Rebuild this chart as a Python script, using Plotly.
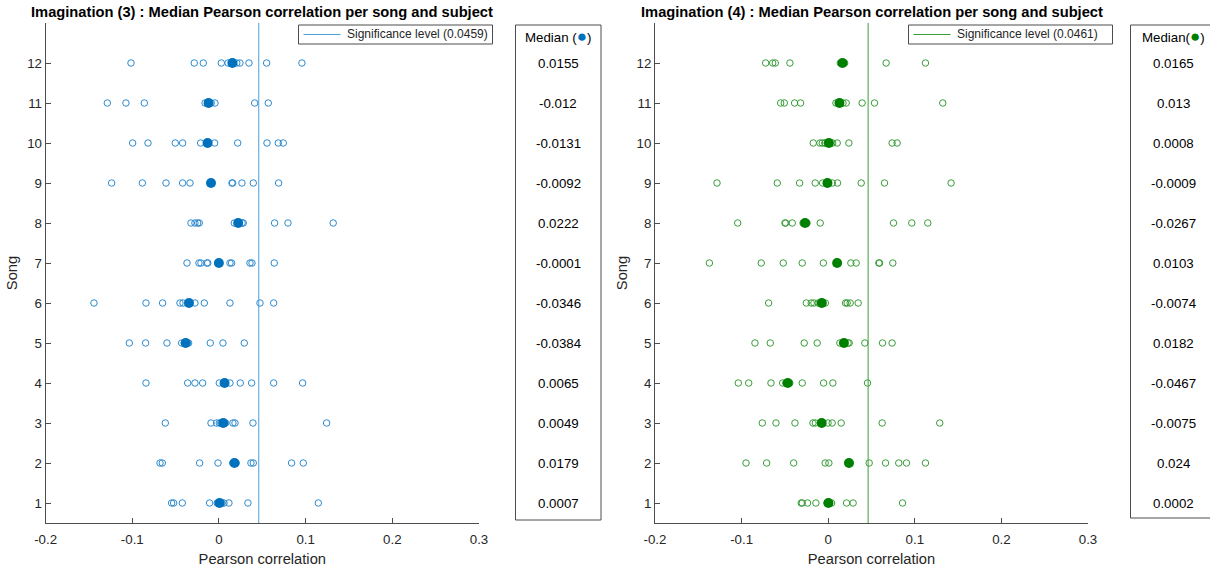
import plotly.graph_objects as go

# Pearson correlation of each subject, per song (songs 1..12), two imagination conditions
SONGS = list(range(1, 13))

IMAG3_CORR = [
    [-0.0546, -0.0523, -0.0423, -0.0108, -0.0020, 0.0034, 0.0058, 0.0115, 0.0334, 0.1146],
    [-0.0680, -0.0654, -0.0223, -0.0011, 0.0160, 0.0198, 0.0369, 0.0396, 0.0838, 0.0973],
    [-0.0619, -0.0092, -0.0027, 0.0004, 0.0021, 0.0077, 0.0161, 0.0185, 0.0392, 0.1242],
    [-0.0842, -0.0361, -0.0277, -0.0188, 0.0004, 0.0127, 0.0246, 0.0377, 0.0631, 0.0965],
    [-0.1034, -0.0846, -0.0600, -0.0430, -0.0400, -0.0368, -0.0350, -0.0100, 0.0046, 0.0292],
    [-0.1442, -0.0842, -0.0650, -0.0450, -0.0415, -0.0277, -0.0169, 0.0127, 0.0473, 0.0631],
    [-0.0369, -0.0231, -0.0208, -0.0138, -0.0129, 0.0127, 0.0146, 0.0358, 0.0381, 0.0638],
    [-0.0323, -0.0277, -0.0246, -0.0227, 0.0177, 0.0267, 0.0280, 0.0642, 0.0796, 0.1318],
    [-0.1238, -0.0884, -0.0611, -0.0419, -0.0334, 0.0150, 0.0158, 0.0265, 0.0396, 0.0688],
    [-0.0996, -0.0819, -0.0504, -0.0419, -0.0212, -0.0050, 0.0216, 0.0554, 0.0684, 0.0742],
    [-0.1288, -0.1073, -0.0861, -0.0160, -0.0130, -0.0110, -0.0090, -0.0046, 0.0412, 0.0569],
    [-0.1015, -0.0285, -0.0181, 0.0027, 0.0105, 0.0205, 0.0242, 0.0346, 0.0550, 0.0957],
]

IMAG4_CORR = [
    [-0.0311, -0.0300, -0.0238, -0.0142, -0.0012, 0.0016, 0.0039, 0.0212, 0.0288, 0.0858],
    [-0.0949, -0.0711, -0.0399, -0.0035, 0.0008, 0.0473, 0.0662, 0.0815, 0.0904, 0.1123],
    [-0.0761, -0.0603, -0.0384, -0.0176, -0.0148, -0.0002, 0.0046, 0.0150, 0.0623, 0.1288],
    [-0.1038, -0.0918, -0.0661, -0.0526, -0.0490, -0.0444, -0.0300, -0.0053, 0.0054, 0.0454],
    [-0.0846, -0.0669, -0.0277, -0.0127, 0.0135, 0.0229, 0.0242, 0.0423, 0.0627, 0.0738],
    [-0.0688, -0.0253, -0.0196, -0.0165, -0.0115, -0.0033, 0.0200, 0.0219, 0.0254, 0.0346],
    [-0.1372, -0.0773, -0.0519, -0.0300, -0.0056, 0.0262, 0.0323, 0.0585, 0.0593, 0.0746],
    [-0.1045, -0.0499, -0.0491, -0.0415, -0.0290, -0.0244, -0.0092, 0.0754, 0.0965, 0.1150],
    [-0.1284, -0.0588, -0.0330, -0.0150, -0.0065, 0.0047, 0.0108, 0.0381, 0.0650, 0.1419],
    [-0.0173, -0.0096, -0.0069, -0.0038, -0.0035, 0.0051, 0.0104, 0.0239, 0.0738, 0.0796],
    [-0.0549, -0.0507, -0.0388, -0.0319, 0.0089, 0.0171, 0.0208, 0.0392, 0.0535, 0.1323],
    [-0.0722, -0.0641, -0.0611, -0.0442, 0.0140, 0.0160, 0.0170, 0.0190, 0.0669, 0.1123],
]

# Medians per song (as reported in the side boxes)
IMAG3_MEDIAN = [0.0007, 0.0179, 0.0049, 0.0065, -0.0384, -0.0346, -0.0001, 0.0222, -0.0092, -0.0131, -0.012, 0.0155]
IMAG4_MEDIAN = [0.0002, 0.024, -0.0075, -0.0467, 0.0182, -0.0074, 0.0103, -0.0267, -0.0009, 0.0008, 0.013, 0.0165]

# Significance thresholds
SIG_LEVEL = [0.0459, 0.0461]

TITLES = [
    "Imagination (3) : Median Pearson correlation per song and subject",
    "Imagination (4) : Median Pearson correlation per song and subject",
]
MEDIAN_HEADERS = ["Median (", "Median("]

X_TICKS = [-0.2, -0.1, 0, 0.1, 0.2, 0.3]
X_TICK_TEXT = ["-0.2", "-0.1", "0", "0.1", "0.2", "0.3"]

W, H = 1210, 568
FONT = "Liberation Sans, Arial, Helvetica, sans-serif"
AX_COLOR = "#4d4d4d"
TXT_COLOR = "#262626"


def px(x):
    return x / W


def py(y):
    return 1 - y / H


panels = [
    dict(corr=IMAG3_CORR, med=IMAG3_MEDIAN, sig=SIG_LEVEL[0], title=TITLES[0],
         head=MEDIAN_HEADERS[0], fill="#0072BD", edge="#2f8bd0", line="#4a9fdc",
         dom=(45.6, 479.0), box=(515.5, 601.0, 25.0, 520.0), legend=(298.5, 492.5)),
    dict(corr=IMAG4_CORR, med=IMAG4_MEDIAN, sig=SIG_LEVEL[1], title=TITLES[1],
         head=MEDIAN_HEADERS[1], fill="#008000", edge="#3a9e3a", line="#3aa03a",
         dom=(655.0, 1088.0), box=(1130.5, 1216.0, 25.0, 518.0), legend=(908.5, 1112.5)),
]

fig = go.Figure()
annotations = []
shapes = []
Y_RANGE = [0.5, 13]
plot_top, plot_bottom = 23.0, 523.0
leg_top, leg_bottom = 25.0, 44.0

for i, p in enumerate(panels):
    n = "" if i == 0 else str(i + 1)
    xa, ya = "x" + n, "y" + n

    # every subject's correlation as an open circle
    xs, ys = [], []
    for song, vals in zip(SONGS, p["corr"]):
        xs.extend(vals)
        ys.extend([song] * len(vals))
    fig.add_trace(go.Scatter(
        x=xs, y=ys, mode="markers", xaxis=xa, yaxis=ya, showlegend=False,
        marker=dict(symbol="circle-open", size=6.5, color=p["edge"], line=dict(width=1, color=p["edge"])),
        hoverinfo="x+y",
    ))

    # significance threshold
    fig.add_trace(go.Scatter(
        x=[p["sig"], p["sig"]], y=Y_RANGE, mode="lines", xaxis=xa, yaxis=ya,
        line=dict(color=p["line"], width=1), showlegend=False,
        name=f"Significance level ({p['sig']:g})",
    ))

    # median per song as a filled dot
    fig.add_trace(go.Scatter(
        x=p["med"], y=SONGS, mode="markers", xaxis=xa, yaxis=ya, showlegend=False,
        marker=dict(symbol="circle", size=10, color=p["fill"], line=dict(width=0)),
    ))

    x0, x1 = p["dom"]
    axis_common = dict(
        showline=True, linecolor=AX_COLOR, linewidth=1, mirror=False,
        ticks="inside", ticklen=5, tickcolor=AX_COLOR, tickwidth=1,
        showgrid=False, zeroline=False, automargin=False,
        tickfont=dict(family=FONT, size=13.3, color=TXT_COLOR),
    )
    fig.update_layout({
        "xaxis" + n: dict(
            axis_common, domain=[px(x0), px(x1)], range=[-0.2, 0.3],
            tickvals=X_TICKS, ticktext=X_TICK_TEXT, anchor=ya, ticklabelstandoff=4,
            title=dict(text="Pearson correlation", font=dict(family=FONT, size=14.7, color=TXT_COLOR), standoff=7),
        ),
        "yaxis" + n: dict(
            axis_common, domain=[py(plot_bottom), py(plot_top)], range=Y_RANGE,
            tickvals=SONGS, ticktext=[str(s) for s in SONGS], anchor=xa,
            title=dict(text="Song", font=dict(family=FONT, size=14.7, color=TXT_COLOR), standoff=5),
        ),
    })

    # legend box for the significance line
    lx0, lx1 = p["legend"]
    lmid = (leg_top + leg_bottom) / 2
    shapes.append(dict(type="rect", xref="paper", yref="paper",
                       x0=px(lx0), x1=px(lx1), y0=py(leg_bottom), y1=py(leg_top),
                       line=dict(color=AX_COLOR, width=1), fillcolor="white"))
    shapes.append(dict(type="line", xref="paper", yref="paper",
                       x0=px(lx0 + 5), x1=px(lx0 + 42), y0=py(lmid), y1=py(lmid),
                       line=dict(color=p["line"], width=1)))
    annotations.append(dict(
        text=f"Significance level ({p['sig']:g})", x=px(lx0 + 46), y=py(lmid),
        xref="paper", yref="paper", xanchor="left", yanchor="middle", showarrow=False,
        font=dict(family=FONT, size=12, color=TXT_COLOR),
    ))

    # panel title
    annotations.append(dict(
        text=f"<b>{p['title']}</b>", x=px((x0 + x1) / 2), y=py(12), xref="paper", yref="paper",
        xanchor="center", yanchor="middle", showarrow=False,
        font=dict(family=FONT, size=14.7, color="black"),
    ))

    # median box with the values listed per song
    bx0, bx1, by0, by1 = p["box"]
    shapes.append(dict(type="rect", xref="paper", yref="paper",
                       x0=px(bx0), x1=px(bx1), y0=py(by1), y1=py(by0),
                       line=dict(color=AX_COLOR, width=1), fillcolor="rgba(0,0,0,0)"))
    bcx = px((bx0 + bx1) / 2)
    annotations.append(dict(
        text=f"{p['head']}<span style='color:{p['fill']};font-size:17px'>●</span>)",
        x=bcx, y=py(37), xref="paper", yref="paper", xanchor="center", yanchor="middle",
        showarrow=False, font=dict(family=FONT, size=13.3, color="black"),
    ))
    for song, m in zip(SONGS, p["med"]):
        annotations.append(dict(
            text=f"{m:g}", x=bcx, y=song, xref="paper", yref=ya,
            xanchor="center", yanchor="middle", showarrow=False,
            font=dict(family=FONT, size=13.3, color="black"),
        ))

fig.update_layout(
    width=W, height=H, margin=dict(l=0, r=0, t=0, b=0),
    paper_bgcolor="white", plot_bgcolor="white", showlegend=False,
    annotations=annotations, shapes=shapes,
    font=dict(family=FONT, color=TXT_COLOR),
)

fig.write_html("out.html")
